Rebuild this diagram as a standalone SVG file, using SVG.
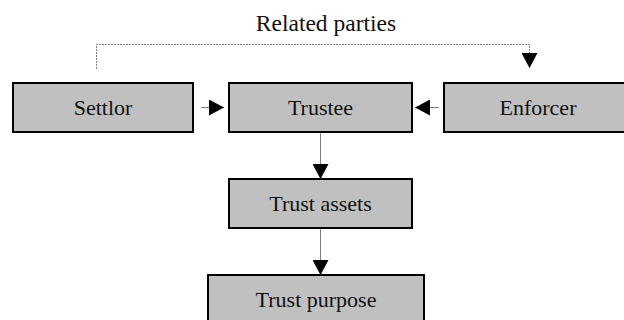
<svg xmlns="http://www.w3.org/2000/svg" width="624" height="320" viewBox="0 0 624 320">
<defs>
<style>
.box{fill:#c0c0c0;stroke:#000;stroke-width:2}
.lbl{font-family:"Liberation Serif","Times New Roman",serif;font-size:22px;fill:#111;text-anchor:middle}
.ttl{font-size:23.5px}
.con{fill:none;stroke:#808080;stroke-width:1}
.dot{fill:none;stroke:#808080;stroke-width:1;stroke-dasharray:2 1}
</style>
<marker id="ah" markerUnits="userSpaceOnUse" markerWidth="15" markerHeight="16" refX="15" refY="8" orient="auto">
<path d="M0,0 L15,8 L0,16 Z" fill="#000"/>
</marker>
</defs>
<text class="lbl ttl" x="326" y="31">Related parties</text>
<g id="connectors">
<path class="dot" d="M96.5,69 V44.5 H529.5 V68" marker-end="url(#ah)"/>
<line class="con" x1="201" y1="107.5" x2="224" y2="107.5" marker-end="url(#ah)"/>
<line class="con" x1="439" y1="107.5" x2="415" y2="107.5" marker-end="url(#ah)"/>
<line class="con" x1="320.5" y1="132" x2="320.5" y2="179" marker-end="url(#ah)"/>
<line class="con" x1="320.5" y1="228" x2="320.5" y2="275" marker-end="url(#ah)"/>
</g>
<g id="settlor"><rect class="box" x="13" y="83" width="180" height="49"/><text class="lbl" x="103" y="115">Settlor</text></g>
<g id="trustee"><rect class="box" x="229" y="83" width="183" height="49"/><text class="lbl" x="320.5" y="115">Trustee</text></g>
<g id="enforcer"><rect class="box" x="444" y="83" width="183" height="49"/><text class="lbl" x="538" y="115">Enforcer</text></g>
<g id="trust-assets"><rect class="box" x="229" y="179" width="183" height="49"/><text class="lbl" x="320.5" y="211">Trust assets</text></g>
<g id="trust-purpose"><rect class="box" x="208" y="275" width="216" height="49"/><text class="lbl" x="316" y="307">Trust purpose</text></g>
</svg>
